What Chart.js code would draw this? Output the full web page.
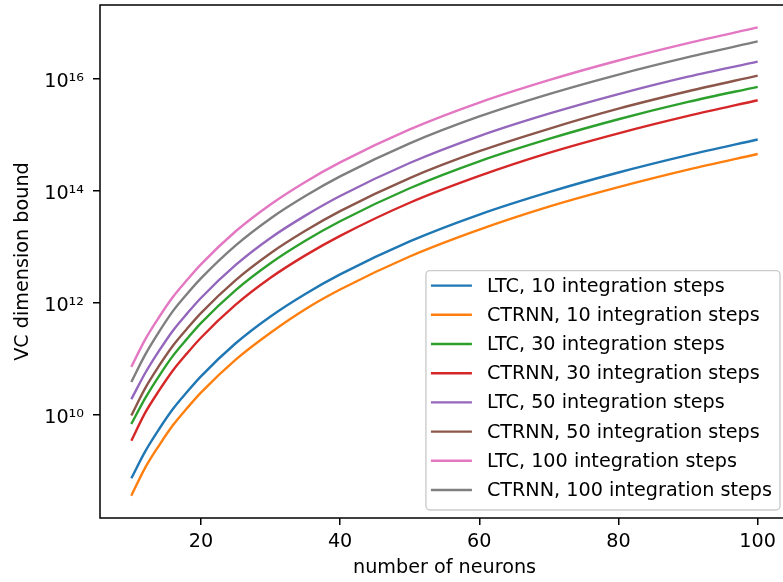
<!DOCTYPE html>
<html>
<head>
<meta charset="utf-8">
<title>VC dimension bound</title>
<script src="https://cdn.jsdelivr.net/npm/chart.js@4.4.1/dist/chart.umd.min.js"></script>
<style>
  html, body { margin: 0; padding: 0; background: #fff; overflow: hidden; }
  #wrap { width: 792px; height: 582px; }
</style>
</head>
<body>
<div id="wrap"><canvas id="chart"></canvas></div>
<script>
// number of neurons (x positions)
const neurons = [10, 12, 14, 16, 18, 20, 25, 30, 35, 40, 50, 60, 70, 80, 90, 100];

// VC dimension bound for each model / number of integration steps
const ltc10    = [7.41e8, 2.24e9, 5.62e9, 1.29e10, 2.57e10, 4.90e10, 1.91e11, 5.75e11, 1.45e12, 3.24e12, 1.26e13, 3.80e13, 9.55e13, 2.14e14, 4.37e14, 8.32e14];
const ctrnn10  = [3.63e8, 1.15e9, 2.88e9, 6.61e9, 1.32e10, 2.51e10, 9.77e10, 2.95e11, 7.76e11, 1.74e12, 6.76e12, 2.04e13, 5.25e13, 1.17e14, 2.40e14, 4.57e14];
const ltc30    = [6.92e9, 2.00e10, 5.01e10, 1.15e11, 2.29e11, 4.37e11, 1.70e12, 5.13e12, 1.29e13, 2.88e13, 1.12e14, 3.39e14, 8.51e14, 1.91e15, 3.89e15, 7.24e15];
const ctrnn30  = [3.47e9, 1.10e10, 2.75e10, 6.31e10, 1.26e11, 2.40e11, 9.33e11, 2.82e12, 7.08e12, 1.58e13, 6.17e13, 1.86e14, 4.79e14, 1.07e15, 2.19e15, 4.17e15];
const ltc50    = [1.91e10, 5.62e10, 1.41e11, 3.24e11, 6.46e11, 1.23e12, 4.79e12, 1.45e13, 3.63e13, 8.13e13, 3.16e14, 9.55e14, 2.40e15, 5.37e15, 1.10e16, 2.04e16];
const ctrnn50  = [9.77e9, 3.02e10, 7.59e10, 1.74e11, 3.47e11, 6.61e11, 2.57e12, 7.76e12, 1.95e13, 4.37e13, 1.70e14, 5.13e14, 1.29e15, 2.95e15, 6.03e15, 1.15e16];
const ltc100   = [7.24e10, 2.24e11, 5.62e11, 1.29e12, 2.57e12, 4.90e12, 1.91e13, 5.75e13, 1.45e14, 3.24e14, 1.26e15, 3.80e15, 9.55e15, 2.14e16, 4.37e16, 8.32e16];
const ctrnn100 = [3.89e10, 1.20e11, 3.09e11, 7.24e11, 1.45e12, 2.75e12, 1.07e13, 3.24e13, 8.13e13, 1.82e14, 7.08e14, 2.14e15, 5.37e15, 1.20e16, 2.45e16, 4.68e16];

const seriesLabels = [
  "LTC, 10 integration steps",
  "CTRNN, 10 integration steps",
  "LTC, 30 integration steps",
  "CTRNN, 30 integration steps",
  "LTC, 50 integration steps",
  "CTRNN, 50 integration steps",
  "LTC, 100 integration steps",
  "CTRNN, 100 integration steps"
];
const seriesValues = [ltc10, ctrnn10, ltc30, ctrnn30, ltc50, ctrnn50, ltc100, ctrnn100];

const xTicks = [20, 40, 60, 80, 100];
const yTicks = [1e10, 1e12, 1e14, 1e16];
const yTickLabels = ["10¹⁰", "10¹²", "10¹⁴", "10¹⁶"];

const colors = ["#1f77b4", "#ff7f0e", "#2ca02c", "#d62728", "#9467bd", "#8c564b", "#e377c2", "#7f7f7f"];
const FONT = "'DejaVu Sans', 'Liberation Sans', sans-serif";
const FS = 19.2;

Chart.defaults.font.family = FONT;
Chart.defaults.font.size = FS;
Chart.defaults.color = "#000";

// axes frame (matplotlib style spines)
const spines = {
  id: "spines",
  afterDatasetsDraw(chart) {
    const { ctx, chartArea: a } = chart;
    ctx.save();
    ctx.strokeStyle = "#000";
    ctx.lineWidth = 1.5;
    ctx.strokeRect(a.left, a.top, a.right - a.left, a.bottom - a.top);
    ctx.restore();
  }
};

// legend box inside the plot, lower right
const boxLegend = {
  id: "boxLegend",
  afterDraw(chart) {
    const { ctx, chartArea: a } = chart;
    ctx.save();
    ctx.font = FS + "px " + FONT;
    const textW = Math.max(...seriesLabels.map((l) => ctx.measureText(l).width));
    const pitch = 29.2;
    const w = 61 + textW + 8;
    const h = 15.4 + pitch * seriesLabels.length - 9.6;
    const right = a.right - 9;
    const bottom = a.bottom - 8;
    const left = right - w;
    const top = bottom - h;

    ctx.beginPath();
    ctx.roundRect(left, top, w, h, 4);
    ctx.fillStyle = "rgba(255,255,255,0.8)";
    ctx.fill();
    ctx.strokeStyle = "#cccccc";
    ctx.lineWidth = 1.4;
    ctx.stroke();

    seriesLabels.forEach((label, i) => {
      const y = top + 15 + i * pitch;
      ctx.beginPath();
      ctx.moveTo(left + 5, y);
      ctx.lineTo(left + 46, y);
      ctx.strokeStyle = colors[i];
      ctx.lineWidth = 2.4;
      ctx.stroke();
      ctx.fillStyle = "#000";
      ctx.textBaseline = "alphabetic";
      ctx.fillText(label, left + 61, y + 6);
    });
    ctx.restore();
  }
};

const datasets = seriesValues.map((vals, i) => ({
  label: seriesLabels[i],
  data: neurons.map((n, j) => ({ x: n, y: vals[j] })),
  borderColor: colors[i],
  backgroundColor: colors[i],
  borderWidth: 2.4,
  pointRadius: 0,
  fill: false,
  cubicInterpolationMode: "monotone"
}));

new Chart(document.getElementById("chart"), {
  type: "line",
  data: { datasets },
  options: {
    responsive: true,
    maintainAspectRatio: false,
    animation: false,
    devicePixelRatio: 1,
    layout: { padding: { top: 5, right: 3, left: 0, bottom: 0 } },
    plugins: {
      legend: { display: false },
      tooltip: { enabled: false }
    },
    scales: {
      x: {
        type: "linear",
        min: 5.5,
        max: 104.5,
        afterBuildTicks: (scale) => {
          scale.ticks = xTicks.map((v) => ({ value: v }));
        },
        afterFit: (scale) => {
          scale.height = 64;
          scale.paddingLeft = 0;
          scale.paddingRight = 0;
        },
        ticks: { padding: 5.5, maxRotation: 0, color: "#000" },
        grid: { drawOnChartArea: false, drawTicks: true, tickLength: 7, color: "#000", lineWidth: 1.5 },
        border: { display: false },
        title: {
          display: true,
          text: "number of neurons",
          color: "#000",
          padding: { top: 0, bottom: 2.2 }
        }
      },
      y: {
        type: "logarithmic",
        min: 1.449e8,
        max: 2.094e17,
        afterBuildTicks: (scale) => {
          scale.ticks = yTicks.map((v) => ({ value: v }));
        },
        afterFit: (scale) => {
          scale.width = 100;
          scale.paddingTop = 0;
          scale.paddingBottom = 0;
        },
        ticks: {
          padding: 9,
          labelOffset: 3,
          color: "#000",
          callback: (value) => {
            const k = yTicks.indexOf(value);
            return k >= 0 ? yTickLabels[k] : "";
          }
        },
        grid: { drawOnChartArea: false, drawTicks: true, tickLength: 7, color: "#000", lineWidth: 1.5 },
        border: { display: false },
        title: {
          display: true,
          text: "VC dimension bound",
          color: "#000",
          padding: { top: 11.1, bottom: 0 }
        }
      }
    }
  },
  plugins: [spines, boxLegend]
});
</script>
</body>
</html>
